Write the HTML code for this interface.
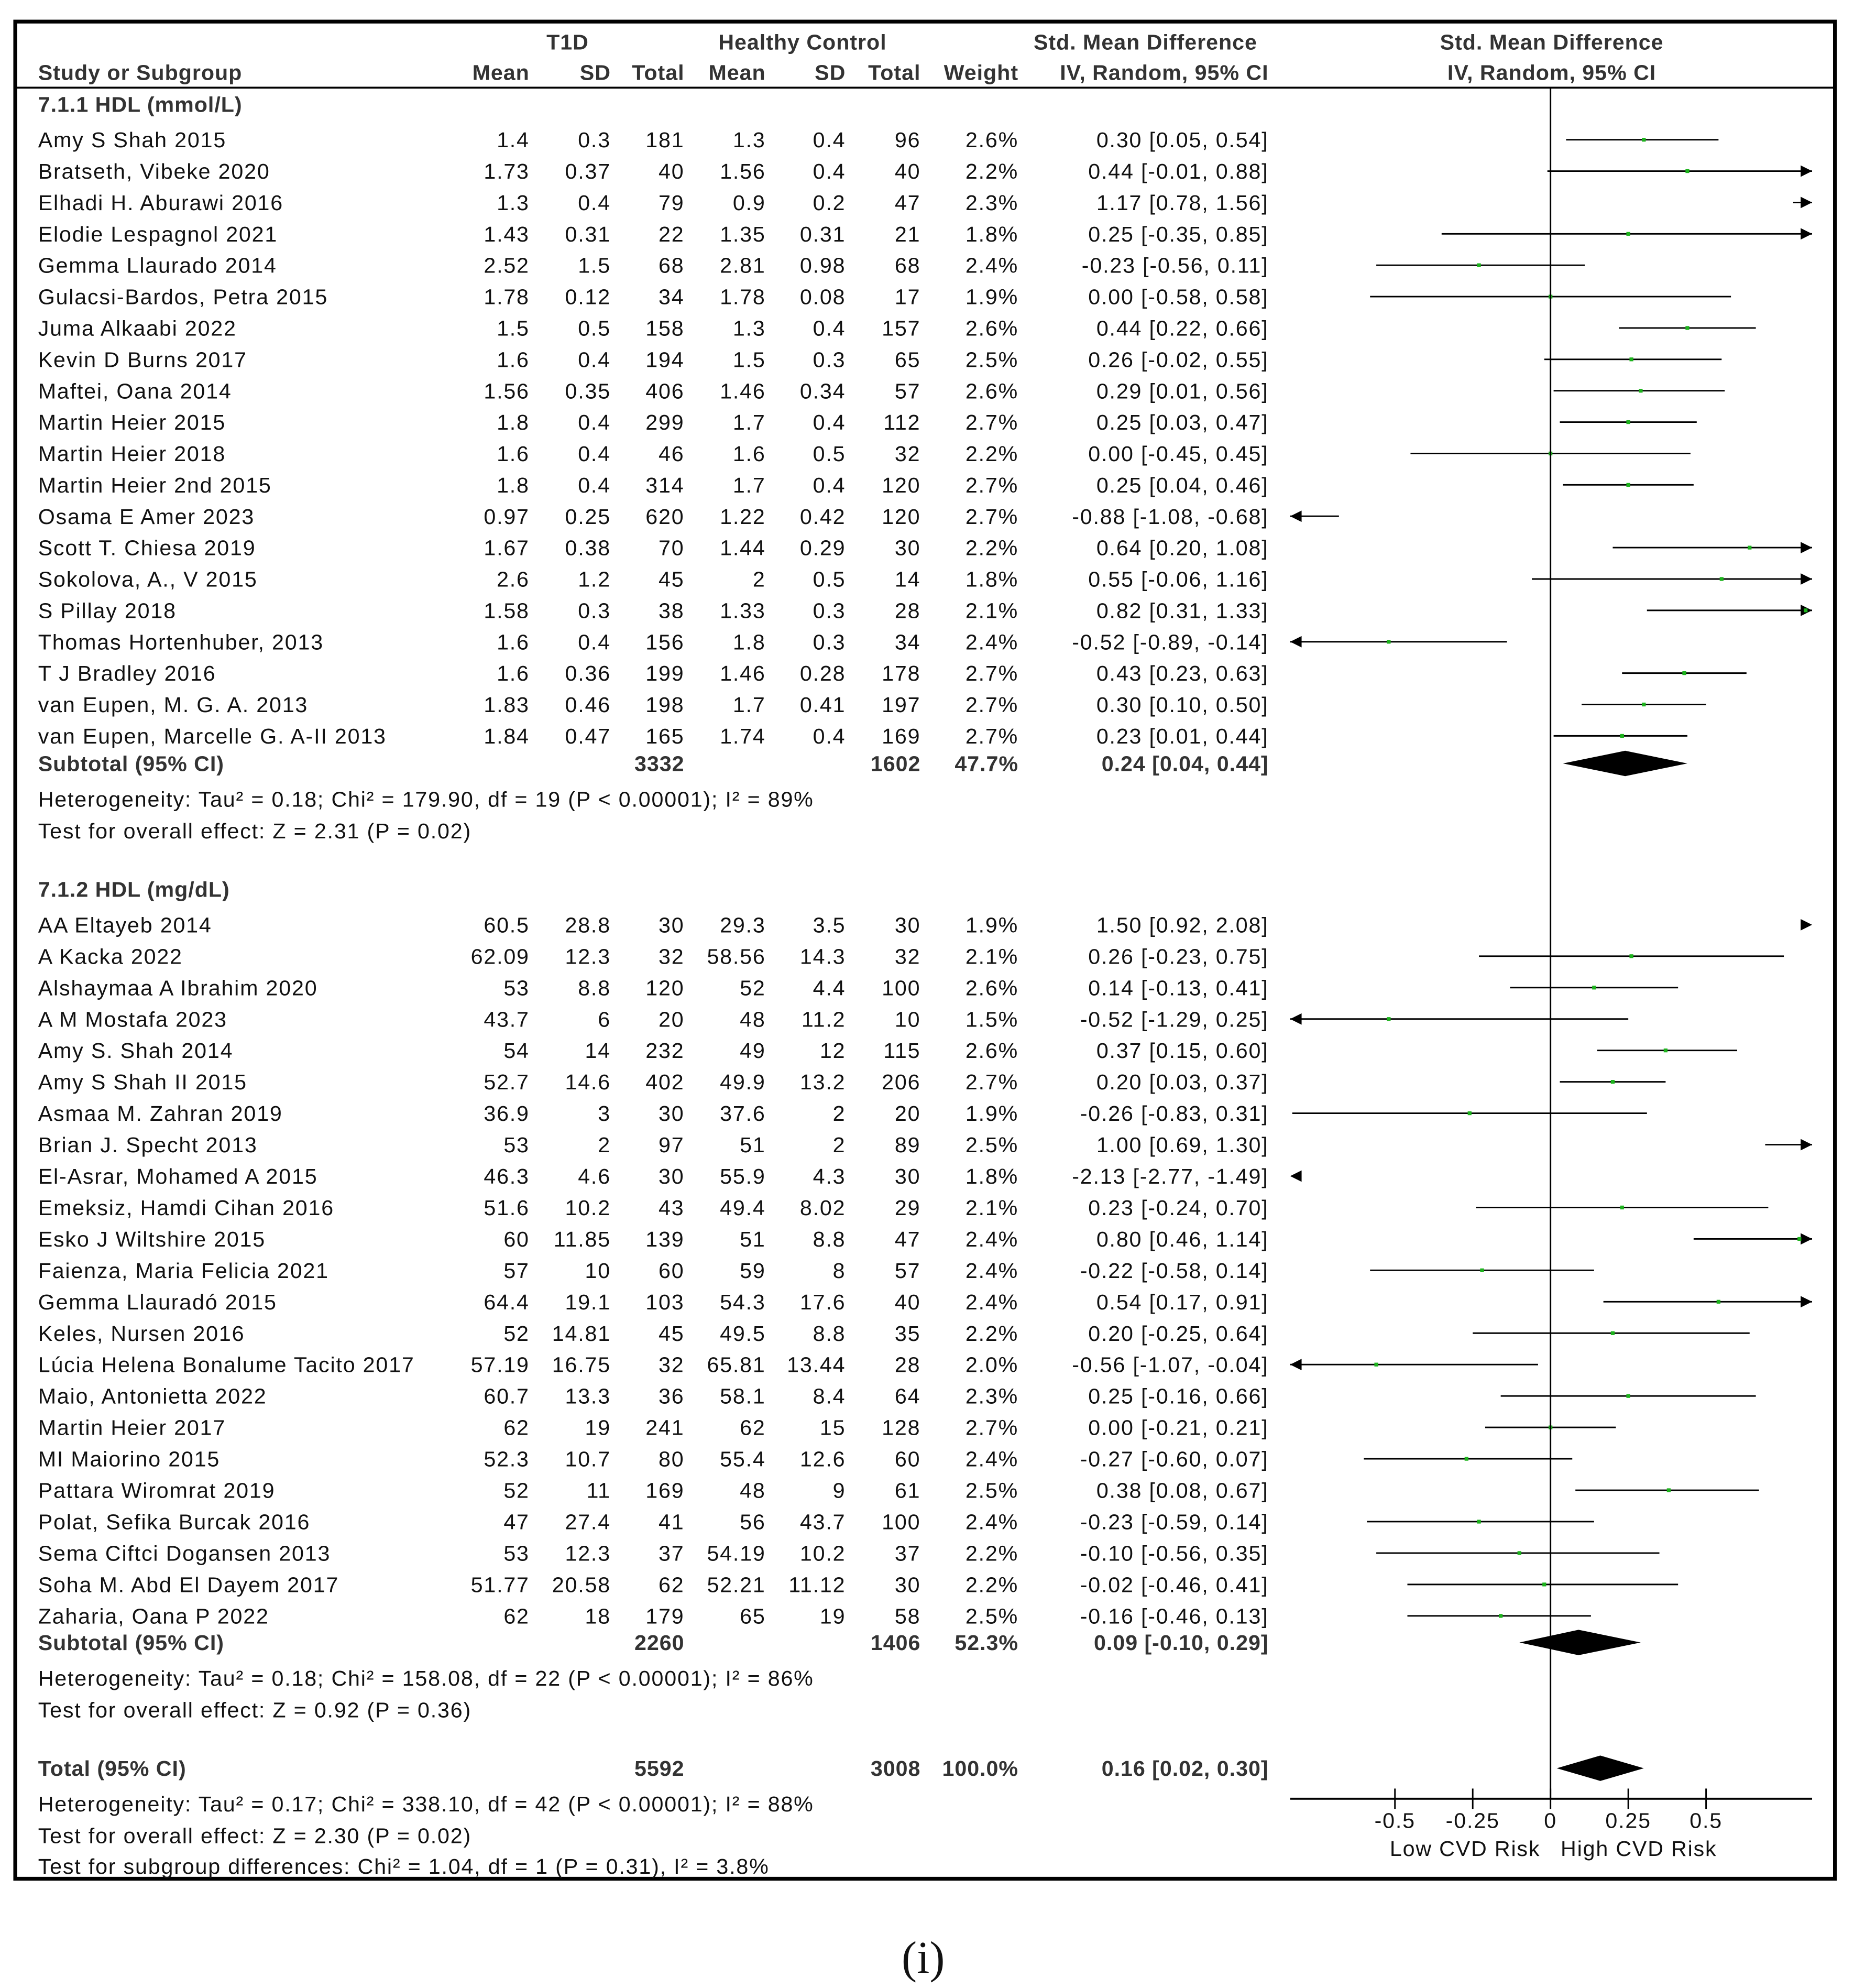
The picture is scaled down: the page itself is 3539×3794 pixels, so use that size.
<!DOCTYPE html>
<html><head><meta charset="utf-8">
<style>
html,body{margin:0;padding:0;background:#fff;}
svg{display:block;}
text{font-family:"Liberation Sans",sans-serif;font-size:17px;fill:#111;letter-spacing:0.75px;}
.b{font-weight:bold;fill:#333;letter-spacing:0.4px;}
</style></head>
<body>
<svg id="chart" width="3539" height="3794" viewBox="0 0 1460 1565" preserveAspectRatio="none" xmlns="http://www.w3.org/2000/svg">
<rect x="12" y="17" width="1433" height="1462" fill="none" stroke="#000" stroke-width="3"/>
<line x1="12" y1="69" x2="1445" y2="69" stroke="#000" stroke-width="1.5"/>
<g>
<text class="b" x="447" y="39" text-anchor="middle">T1D</text>
<text class="b" x="632" y="39" text-anchor="middle">Healthy Control</text>
<text class="b" x="902" y="39" text-anchor="middle">Std. Mean Difference</text>
<text class="b" x="1222" y="39" text-anchor="middle">Std. Mean Difference</text>
<text class="b" x="30" y="63">Study or Subgroup</text>
<text class="b" x="417" y="63" text-anchor="end">Mean</text>
<text class="b" x="481" y="63" text-anchor="end">SD</text>
<text class="b" x="539" y="63" text-anchor="end">Total</text>
<text class="b" x="603" y="63" text-anchor="end">Mean</text>
<text class="b" x="666" y="63" text-anchor="end">SD</text>
<text class="b" x="725" y="63" text-anchor="end">Total</text>
<text class="b" x="802" y="63" text-anchor="end">Weight</text>
<text class="b" x="999" y="63" text-anchor="end">IV, Random, 95% CI</text>
<text class="b" x="1222" y="63" text-anchor="middle">IV, Random, 95% CI</text>
</g>
<g id="rows"></g>
<g id="plot"></g>
<text x="727" y="1553" text-anchor="middle" style="font-family:'Liberation Serif',serif;font-size:36px;letter-spacing:0;">(i)</text>
</svg>
<script>
const g1Studies=["Amy S Shah 2015","Bratseth, Vibeke 2020","Elhadi H. Aburawi 2016","Elodie Lespagnol 2021","Gemma Llaurado 2014","Gulacsi-Bardos, Petra 2015","Juma Alkaabi 2022","Kevin D Burns 2017","Maftei, Oana 2014","Martin Heier 2015","Martin Heier 2018","Martin Heier 2nd 2015","Osama E Amer 2023","Scott T. Chiesa 2019","Sokolova, A., V 2015","S Pillay 2018","Thomas Hortenhuber, 2013","T J Bradley 2016","van Eupen, M. G. A. 2013","van Eupen, Marcelle G. A-II 2013"];
const g1T1dMean=["1.4","1.73","1.3","1.43","2.52","1.78","1.5","1.6","1.56","1.8","1.6","1.8","0.97","1.67","2.6","1.58","1.6","1.6","1.83","1.84"];
const g1T1dSD=["0.3","0.37","0.4","0.31","1.5","0.12","0.5","0.4","0.35","0.4","0.4","0.4","0.25","0.38","1.2","0.3","0.4","0.36","0.46","0.47"];
const g1T1dN=["181","40","79","22","68","34","158","194","406","299","46","314","620","70","45","38","156","199","198","165"];
const g1HcMean=["1.3","1.56","0.9","1.35","2.81","1.78","1.3","1.5","1.46","1.7","1.6","1.7","1.22","1.44","2","1.33","1.8","1.46","1.7","1.74"];
const g1HcSD=["0.4","0.4","0.2","0.31","0.98","0.08","0.4","0.3","0.34","0.4","0.5","0.4","0.42","0.29","0.5","0.3","0.3","0.28","0.41","0.4"];
const g1HcN=["96","40","47","21","68","17","157","65","57","112","32","120","120","30","14","28","34","178","197","169"];
const g1Weight=["2.6%","2.2%","2.3%","1.8%","2.4%","1.9%","2.6%","2.5%","2.6%","2.7%","2.2%","2.7%","2.7%","2.2%","1.8%","2.1%","2.4%","2.7%","2.7%","2.7%"];
const g1Smd=[0.30,0.44,1.17,0.25,-0.23,0.00,0.44,0.26,0.29,0.25,0.00,0.25,-0.88,0.64,0.55,0.82,-0.52,0.43,0.30,0.23];
const g1Lo=[0.05,-0.01,0.78,-0.35,-0.56,-0.58,0.22,-0.02,0.01,0.03,-0.45,0.04,-1.08,0.20,-0.06,0.31,-0.89,0.23,0.10,0.01];
const g1Hi=[0.54,0.88,1.56,0.85,0.11,0.58,0.66,0.55,0.56,0.47,0.45,0.46,-0.68,1.08,1.16,1.33,-0.14,0.63,0.50,0.44];

const g2Studies=["AA Eltayeb 2014","A Kacka 2022","Alshaymaa A Ibrahim 2020","A M Mostafa 2023","Amy S. Shah 2014","Amy S Shah II 2015","Asmaa M. Zahran 2019","Brian J. Specht 2013","El-Asrar, Mohamed A 2015","Emeksiz, Hamdi Cihan 2016","Esko J Wiltshire 2015","Faienza, Maria Felicia 2021","Gemma Llauradó 2015","Keles, Nursen 2016","Lúcia Helena Bonalume Tacito 2017","Maio, Antonietta 2022","Martin Heier 2017","MI Maiorino 2015","Pattara Wiromrat 2019","Polat, Sefika Burcak 2016","Sema Ciftci Dogansen 2013","Soha M. Abd El Dayem 2017","Zaharia, Oana P 2022"];
const g2T1dMean=["60.5","62.09","53","43.7","54","52.7","36.9","53","46.3","51.6","60","57","64.4","52","57.19","60.7","62","52.3","52","47","53","51.77","62"];
const g2T1dSD=["28.8","12.3","8.8","6","14","14.6","3","2","4.6","10.2","11.85","10","19.1","14.81","16.75","13.3","19","10.7","11","27.4","12.3","20.58","18"];
const g2T1dN=["30","32","120","20","232","402","30","97","30","43","139","60","103","45","32","36","241","80","169","41","37","62","179"];
const g2HcMean=["29.3","58.56","52","48","49","49.9","37.6","51","55.9","49.4","51","59","54.3","49.5","65.81","58.1","62","55.4","48","56","54.19","52.21","65"];
const g2HcSD=["3.5","14.3","4.4","11.2","12","13.2","2","2","4.3","8.02","8.8","8","17.6","8.8","13.44","8.4","15","12.6","9","43.7","10.2","11.12","19"];
const g2HcN=["30","32","100","10","115","206","20","89","30","29","47","57","40","35","28","64","128","60","61","100","37","30","58"];
const g2Weight=["1.9%","2.1%","2.6%","1.5%","2.6%","2.7%","1.9%","2.5%","1.8%","2.1%","2.4%","2.4%","2.4%","2.2%","2.0%","2.3%","2.7%","2.4%","2.5%","2.4%","2.2%","2.2%","2.5%"];
const g2Smd=[1.50,0.26,0.14,-0.52,0.37,0.20,-0.26,1.00,-2.13,0.23,0.80,-0.22,0.54,0.20,-0.56,0.25,0.00,-0.27,0.38,-0.23,-0.10,-0.02,-0.16];
const g2Lo=[0.92,-0.23,-0.13,-1.29,0.15,0.03,-0.83,0.69,-2.77,-0.24,0.46,-0.58,0.17,-0.25,-1.07,-0.16,-0.21,-0.60,0.08,-0.59,-0.56,-0.46,-0.46];
const g2Hi=[2.08,0.75,0.41,0.25,0.60,0.37,0.31,1.30,-1.49,0.70,1.14,0.14,0.91,0.64,-0.04,0.66,0.21,0.07,0.67,0.14,0.35,0.41,0.13];

const pooledLabels=["Subtotal (95% CI)","Subtotal (95% CI)","Total (95% CI)"];
const pooledT1dN=["3332","2260","5592"];
const pooledHcN=["1602","1406","3008"];
const pooledWeight=["47.7%","52.3%","100.0%"];
const pooledSmd=[0.24,0.09,0.16];
const pooledLo=[0.04,-0.10,0.02];
const pooledHi=[0.44,0.29,0.30];
const axisTicks=[-0.5,-0.25,0,0.25,0.5];
const axisTickLabels=["-0.5","-0.25","0","0.25","0.5"];

const NS="http://www.w3.org/2000/svg";
const X0=1221, UNIT=245, XMIN=1016, XMAX=1427;
function xs(v){return X0+v*UNIT;}
function el(tag,attrs,parent){const e=document.createElementNS(NS,tag);for(const k in attrs)e.setAttribute(k,attrs[k]);parent.appendChild(e);return e;}
function txt(parent,x,y,s,anchor,cls){const t=el('text',{x:x,y:y,'text-anchor':anchor||'start'},parent);if(cls)t.setAttribute('class',cls);t.textContent=s;return t;}
function f2(v){return v.toFixed(2);}
const rows=document.getElementById('rows');
const plot=document.getElementById('plot');

function drawStudy(y,name,m1,s1,n1,m2,s2,n2,w,smd,lo,hi){
  const g=el('g',{},rows);
  
  
  const b=y+6;
  txt(g,30,b,name);
  txt(g,417,b,m1,'end');txt(g,481,b,s1,'end');txt(g,539,b,n1,'end');
  txt(g,603,b,m2,'end');txt(g,666,b,s2,'end');txt(g,725,b,n2,'end');
  txt(g,802,b,w,'end');
  txt(g,999,b,f2(smd)+" ["+f2(lo)+", "+f2(hi)+"]",'end');
  const pg=el('g',{},plot);
  
  
  const xl=Math.max(xs(lo),XMIN), xh=Math.min(xs(hi),XMAX);
  if(xh>xl) el('line',{x1:xl,y1:y,x2:xh,y2:y,stroke:'#000','stroke-width':1.2},pg);
  if(xs(hi)>XMAX) el('polygon',{points:(XMAX)+','+y+' '+(XMAX-9)+','+(y-4.5)+' '+(XMAX-9)+','+(y+4.5),fill:'#000'},pg);
  if(xs(lo)<XMIN) el('polygon',{points:(XMIN)+','+y+' '+(XMIN+9)+','+(y-4.5)+' '+(XMIN+9)+','+(y+4.5),fill:'#000'},pg);
  const px=xs(smd);
  if(px>=XMIN&&px<=XMAX) el('rect',{x:px-1.5,y:y-1.5,width:3,height:3,fill:'#1db31d'},pg);
}
function drawPooled(i,y){
  const g=el('g',{},rows);
  
  
  const b=y+6;
  txt(g,30,b,pooledLabels[i],'start','b');
  txt(g,539,b,pooledT1dN[i],'end','b');
  txt(g,725,b,pooledHcN[i],'end','b');
  txt(g,802,b,pooledWeight[i],'end','b');
  txt(g,999,b,f2(pooledSmd[i])+" ["+f2(pooledLo[i])+", "+f2(pooledHi[i])+"]",'end','b');
  const d=el('polygon',{points:xs(pooledLo[i])+','+y+' '+xs(pooledSmd[i])+','+(y-10)+' '+xs(pooledHi[i])+','+y+' '+xs(pooledSmd[i])+','+(y+10),fill:'#000'},plot);
  
  
}
function note(y,s){const t=txt(rows,30,y+6,s);}

let t=txt(rows,30,88,"7.1.1 HDL (mmol/L)",'start','b');


for(let i=0;i<g1Studies.length;i++){
  drawStudy(110+i*24.7,g1Studies[i],g1T1dMean[i],g1T1dSD[i],g1T1dN[i],g1HcMean[i],g1HcSD[i],g1HcN[i],g1Weight[i],g1Smd[i],g1Lo[i],g1Hi[i]);
}
drawPooled(0,601);
note(629,"Heterogeneity: Tau² = 0.18; Chi² = 179.90, df = 19 (P < 0.00001); I² = 89%");
note(654,"Test for overall effect: Z = 2.31 (P = 0.02)");
t=txt(rows,30,706,"7.1.2 HDL (mg/dL)",'start','b');


for(let i=0;i<g2Studies.length;i++){
  drawStudy(728+i*24.73,g2Studies[i],g2T1dMean[i],g2T1dSD[i],g2T1dN[i],g2HcMean[i],g2HcSD[i],g2HcN[i],g2Weight[i],g2Smd[i],g2Lo[i],g2Hi[i]);
}
drawPooled(1,1293);
note(1321,"Heterogeneity: Tau² = 0.18; Chi² = 158.08, df = 22 (P < 0.00001); I² = 86%");
note(1346,"Test for overall effect: Z = 0.92 (P = 0.36)");
drawPooled(2,1392);
note(1420,"Heterogeneity: Tau² = 0.17; Chi² = 338.10, df = 42 (P < 0.00001); I² = 88%");
note(1445,"Test for overall effect: Z = 2.30 (P = 0.02)");
note(1469,"Test for subgroup differences: Chi² = 1.04, df = 1 (P = 0.31), I² = 3.8%");

const zl=el('line',{x1:X0,y1:69,x2:X0,y2:1416,stroke:'#000','stroke-width':1.2},plot);


const ax=el('line',{x1:XMIN,y1:1416,x2:XMAX,y2:1416,stroke:'#000','stroke-width':1.6},plot);


for(let i=0;i<axisTicks.length;i++){
  const x=xs(axisTicks[i]);
  const tk=el('line',{x1:x,y1:1408,x2:x,y2:1424,stroke:'#000','stroke-width':1.2},plot);
  
  
  const lb=txt(plot,x,1439,axisTickLabels[i],'middle');
  
  
}
let lo=txt(plot,1213,1461,"Low CVD Risk",'end');


let hi=txt(plot,1229,1461,"High CVD Risk",'start');


</script>
</body></html>
